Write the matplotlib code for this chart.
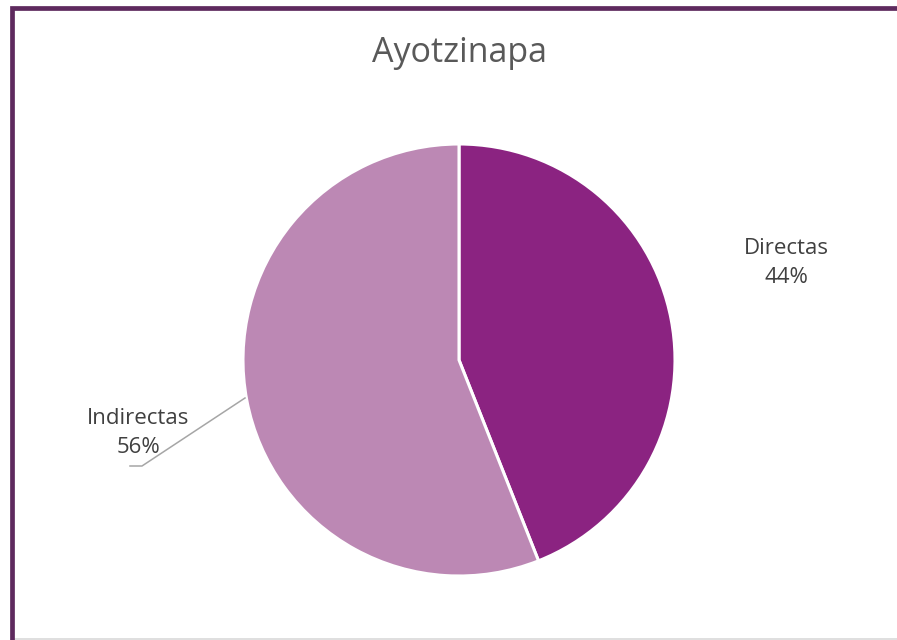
import matplotlib.pyplot as plt
from matplotlib.patches import Rectangle
from matplotlib.lines import Line2D

categorias = ["Directas", "Indirectas"]
valores = [44, 56]
colores = ["#8B2381", "#BC88B4"]
titulo = "Ayotzinapa"

W, H = 897, 640
fig = plt.figure(figsize=(W / 100, H / 100), dpi=100)
fig.patch.set_facecolor("white")

# marco morado (solo se ven arriba e izquierda)
fig.patches.append(Rectangle((12 / W, -0.2), 1.2, (H - 7.5) / H + 0.2,
                             transform=fig.transFigure, fill=False,
                             edgecolor="#5E2A5E", linewidth=3.4, zorder=10))
fig.lines.append(Line2D([14 / W, 1], [1.5 / H, 1.5 / H], transform=fig.transFigure,
                        color="#D9D9D9", linewidth=1.2))

# pastel: centro (459, 360), radio 216 px
cx, cy, r = 459, 360, 216
ax = fig.add_axes([(cx - r) / W, (H - cy - r) / H, 2 * r / W, 2 * r / H])
wedges, _ = ax.pie(valores, colors=colores, startangle=90, counterclock=False,
                   wedgeprops=dict(edgecolor="white", linewidth=2.2))
ax.set_xlim(-1, 1)
ax.set_ylim(-1, 1)
ax.set_aspect("equal")
ax.axis("off")

fuente = ["Open Sans", "DejaVu Sans"]
fig.text(459 / W, 1 - 53 / H, titulo, ha="center", va="center",
         fontsize=24.5, color="#595959", family=fuente)

total = sum(valores)
etiquetas = [f"{c}\n{round(v * 100 / total)}%" for c, v in zip(categorias, valores)]
fig.text(786 / W, 1 - 263 / H, etiquetas[0], ha="center", va="center",
         fontsize=16, color="#404040", family=fuente, linespacing=1.55)
fig.text(138 / W, 1 - 433 / H, etiquetas[1], ha="center", va="center",
         fontsize=16, color="#404040", family=fuente, linespacing=1.55)

# línea guía de Indirectas
fig.lines.append(Line2D([245 / W, 142 / W, 130 / W],
                        [1 - 398 / H, 1 - 466 / H, 1 - 466 / H],
                        transform=fig.transFigure, color="#A6A6A6", linewidth=1.1))

fig.savefig("out.png", dpi=100)
